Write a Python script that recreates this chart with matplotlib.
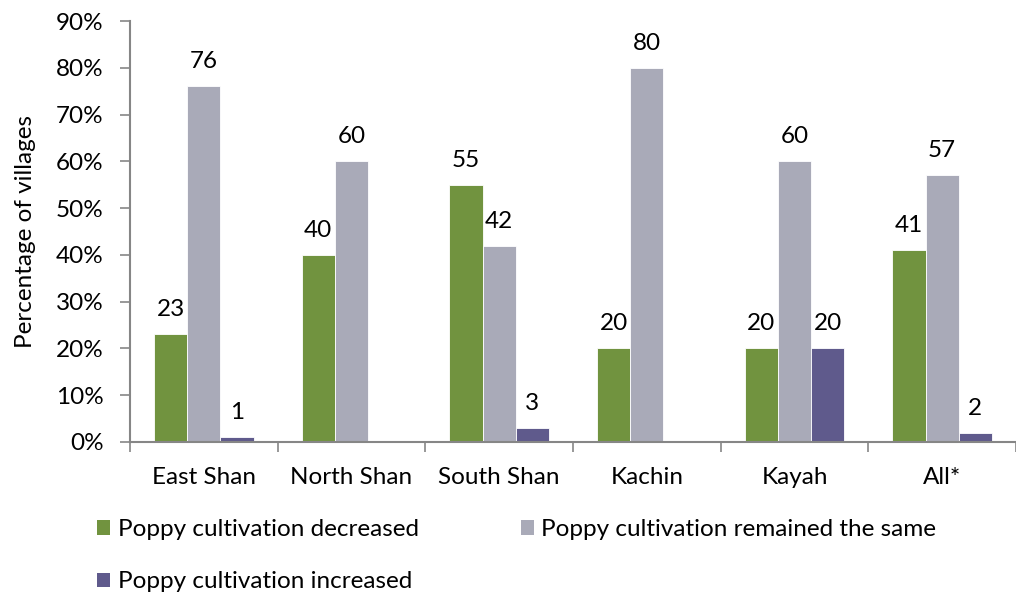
import matplotlib
matplotlib.use("Agg")
import matplotlib.pyplot as plt
import numpy as np
from matplotlib.patches import Patch

categories = ["East Shan", "North Shan", "South Shan", "Kachin", "Kayah", "All*"]
decreased = [23, 40, 55, 20, 20, 41]
same = [76, 60, 42, 80, 60, 57]
increased = [1, None, 3, None, 20, 2]
series_names = ["Poppy cultivation decreased", "Poppy cultivation remained the same",
                "Poppy cultivation increased"]
yticks = [0, 10, 20, 30, 40, 50, 60, 70, 80, 90]

colors = ["#71933F", "#A9AAB8", "#5F5A8C"]
plt.rcParams['font.family'] = ['Lato', 'DejaVu Sans']
FS = 17.5

fig = plt.figure(figsize=(10.16, 5.97), dpi=100)
ax = fig.add_axes([130/1016, 1-442/597, (1016-130)/1016, (442-21)/597])

x = np.arange(len(categories))
w = 0.225
handles = []
for i, (vals, c) in enumerate(zip([decreased, same, increased], colors)):
    xs = [xi + (i-1)*w for xi, v in zip(x, vals) if v is not None]
    vs = [v for v in vals if v is not None]
    ax.bar(xs, vs, width=w, color=c, edgecolor="white", linewidth=0.6)
    for xx, vv in zip(xs, vs):
        ax.text(xx, vv + 3.0, f"{vv}", ha="center", va="bottom", fontsize=FS, color="black")
    handles.append(Patch(facecolor=c, edgecolor="none"))

ax.set_xlim(-0.5, len(categories)-0.5)
ax.set_ylim(0, 90)
ax.set_yticks(yticks)
ax.set_yticklabels([f"{t}%" for t in yticks], fontsize=FS)
ax.set_xticks(x)
ax.set_xticklabels(categories, fontsize=FS)
ax.set_xticks(np.arange(len(categories)+1)-0.5, minor=True)
ax.tick_params(axis='x', which='major', length=0, pad=18)
ax.tick_params(axis='x', which='minor', length=7, width=1.2, color="#868686", direction='out')
ax.tick_params(axis='y', length=7, width=1.2, color="#868686", direction='out', pad=12)
for s in ["top", "right"]:
    ax.spines[s].set_visible(False)
for s in ["left", "bottom"]:
    ax.spines[s].set_color("#868686")
    ax.spines[s].set_linewidth(1.5)
ax.set_ylabel("Percentage of villages", fontsize=FS, labelpad=14)

order = [0, 2, 1]
fig.legend([handles[i] for i in order], [series_names[i] for i in order],
           loc="upper left", bbox_to_anchor=(75/1016, 1-497/597), ncol=2, frameon=False,
           fontsize=FS, handlelength=0.55, handleheight=0.55, handletextpad=0.3,
           columnspacing=4.2, labelspacing=1.3)

fig.savefig("out.png", dpi=100)
